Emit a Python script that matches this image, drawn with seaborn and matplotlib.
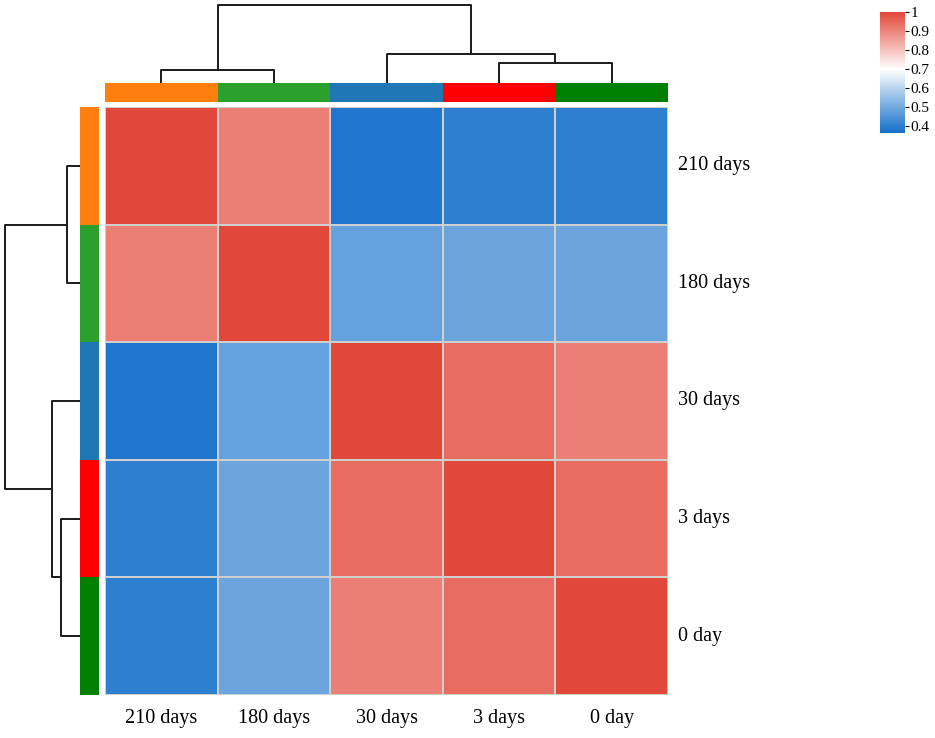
import numpy as np
import pandas as pd
import matplotlib
matplotlib.use("Agg")
import matplotlib.pyplot as plt
import seaborn as sns
from matplotlib.colors import LinearSegmentedColormap

# ---- data ----
samples = ["210 days", "180 days", "30 days", "3 days", "0 day"]
corr_210 = [1.00, 0.91, 0.38, 0.40, 0.40]
corr_180 = [0.91, 1.00, 0.48, 0.49, 0.49]
corr_30 = [0.38, 0.48, 1.00, 0.94, 0.91]
corr_3 = [0.40, 0.49, 0.94, 1.00, 0.94]
corr_0 = [0.40, 0.49, 0.91, 0.94, 1.00]
group_colors = ["#FF7F0E", "#2CA02C", "#1F77B4", "#FF0000", "#008000"]
# merge heights of the hierarchical clustering (210|180, 3|0, 30|(3,0), root)
merge_heights = [13.3, 20.0, 29.3, 78.0]
cbar_ticks = [0.4, 0.5, 0.6, 0.7, 0.8, 0.9, 1.0]
cbar_labels = ["0.4", "0.5", "0.6", "0.7", "0.8", "0.9", "1"]

df = pd.DataFrame([corr_210, corr_180, corr_30, corr_3, corr_0],
                  index=samples, columns=samples)

Z = np.array([
    [0, 1, merge_heights[0], 2],
    [3, 4, merge_heights[1], 2],
    [2, 6, merge_heights[2], 3],
    [5, 7, merge_heights[3], 5],
], dtype=float)

vmin, vmax, vmid = 0.365, 1.0, 0.70
cmap = LinearSegmentedColormap.from_list(
    "bwr_custom",
    [(0.0, "#1570CA"), ((vmid - vmin) / (vmax - vmin), "#FFFFFF"), (1.0, "#E2483A")])

serif = ["Liberation Serif", "DejaVu Serif"]

g = sns.clustermap(
    df, row_linkage=Z, col_linkage=Z,
    row_colors=pd.Series(group_colors, index=samples),
    col_colors=pd.Series(group_colors, index=samples),
    cmap=cmap, vmin=vmin, vmax=vmax,
    linewidths=1.2, linecolor="#CFCFCF",
    figsize=(9.35, 7.38),
    tree_kws={"linewidths": 1.4, "colors": "#1a1a1a"},
    cbar_kws={"ticks": cbar_ticks},
)

W, H = 935.0, 738.0
def pos(x0, y0, x1, y1):
    return [x0 / W, 1 - y1 / H, (x1 - x0) / W, (y1 - y0) / H]

g.ax_heatmap.set_position(pos(105, 107, 668, 695))
g.ax_col_colors.set_position(pos(105, 83, 668, 102))
g.ax_row_colors.set_position(pos(80, 107, 99, 695))
g.ax_col_dendrogram.set_position(pos(105, 1, 668, 83))
g.ax_row_dendrogram.set_position(pos(1, 107, 80, 695))
g.ax_cbar.set_position(pos(880, 12, 905, 133))

# colour strips without grid lines
for ax in (g.ax_row_colors, g.ax_col_colors):
    for c in ax.collections:
        c.set_linewidth(0)
    ax.set_xticks([])
    ax.set_yticks([])

hm = g.ax_heatmap
hm.set_xlabel("")
hm.set_ylabel("")
hm.tick_params(axis="both", length=0)
hm.tick_params(axis="x", pad=10)
hm.tick_params(axis="y", pad=7)
for t in hm.get_xticklabels():
    t.set_fontfamily(serif)
    t.set_fontsize(14.5)
    t.set_rotation(0)
for t in hm.get_yticklabels():
    t.set_fontfamily(serif)
    t.set_fontsize(14.5)
    t.set_rotation(0)
    t.set_va("center")

cb = g.ax_cbar
cb.set_yticks(cbar_ticks)
cb.set_yticklabels(cbar_labels)
cb.tick_params(axis="y", length=3, width=0.8, pad=1, labelsize=11)
for t in cb.get_yticklabels():
    t.set_fontfamily(serif)
for s in cb.spines.values():
    s.set_visible(False)

g.figure.savefig("out.png", dpi=100)
